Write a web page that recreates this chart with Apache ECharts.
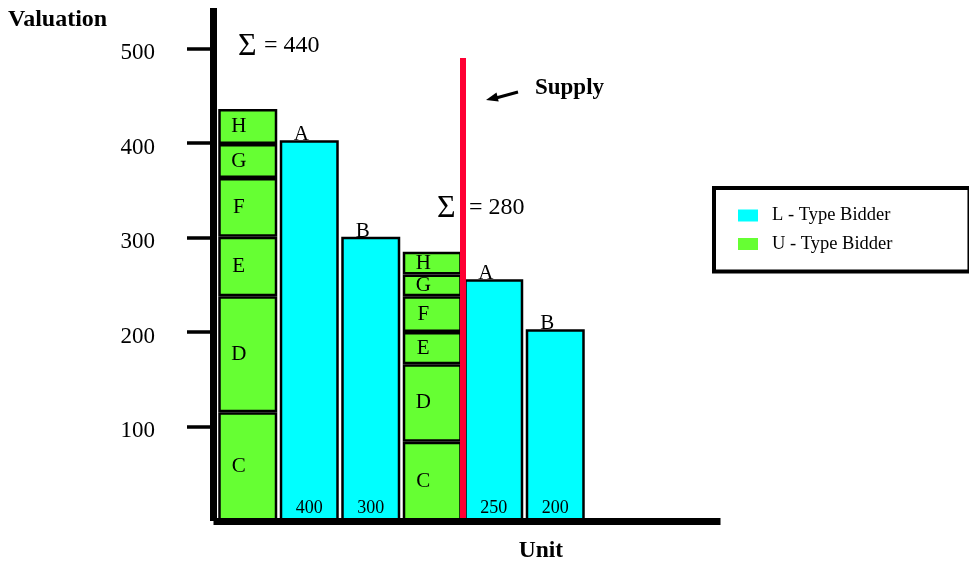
<!DOCTYPE html>
<html lang="en">
<head>
<meta charset="UTF-8">
<title>Valuation / Unit</title>
<style>
  * { margin: 0; padding: 0; }
  html, body { width: 100%; height: 100%; background: #fff; }
  #main { width: 969px; height: 565px; }
</style>
</head>
<body>
<div id="main"></div>
<script src="https://cdn.jsdelivr.net/npm/echarts@6/dist/echarts.min.js"></script>
<script>
// columns along the unit axis: U = stack of U-type bidders, L = one L-type bidder
var columns = ['U1', 'LA1', 'LB1', 'U2', 'LA2', 'LB2'];
var bottomLabels = ['', '400', '300', '', '250', '200'];
var topLabels = ['', 'A', 'B', '', 'A', 'B'];
var lValues = ['-', 403, 301, '-', 256, 203];
var uLetters = ['C', 'D', 'E', 'F', 'G', 'H'];
var uStack1 = [115, 123, 63, 62, 36, 37];   // sums to ~440
var uStack2 = [84, 82, 34, 38, 23, 24];     // sums to ~280
var yTicks = [100, 200, 300, 400, 500];
var supplyUnit = 4;      // supply cut after the 4th column
var supplyTop = 490;

var FONT = 'Liberation Serif';
var CYAN = '#00ffff', GREEN = '#66ff33', RED = '#ff0033';

var chart = echarts.init(document.getElementById('main'));

var series = [];
// U-type bidders, one stacked series per letter
uLetters.forEach(function (letter, i) {
    series.push({
        name: 'U - Type Bidder',
        type: 'bar',
        xAxisIndex: 1, yAxisIndex: 1,
        stack: 'u',
        barWidth: 59,
        barGap: '-100%',
        data: [uStack1[i], '-', '-', uStack2[i], '-', '-'],
        itemStyle: { color: GREEN, borderColor: '#000', borderWidth: 2.5 },
        label: {
            show: true, position: 'inside', formatter: letter,
            offset: [-9, 0],
            fontFamily: FONT, fontSize: 21, color: '#000'
        }
    });
});
// L-type bidders
series.push({
    name: 'L - Type Bidder',
    type: 'bar',
    xAxisIndex: 1, yAxisIndex: 1,
    barWidth: 59,
    barGap: '-100%',
    data: lValues,
    itemStyle: { color: CYAN, borderColor: '#000', borderWidth: 2.5 },
    label: {
        show: true, position: 'top', distance: 0, offset: [-8, 5],
        formatter: function (p) { return topLabels[p.dataIndex]; },
        fontFamily: FONT, fontSize: 21, color: '#000'
    }
});
// supply line
series.push({
    name: 'Supply',
    type: 'line',
    xAxisIndex: 0, yAxisIndex: 0,
    data: [[supplyUnit, 0], [supplyUnit, supplyTop]],
    symbol: 'none',
    silent: true,
    z: 5,
    lineStyle: { color: RED, width: 6, cap: 'butt' }
});

var option = {
    animation: false,
    backgroundColor: '#fff',
    grid: [
        { left: 217, right: 252, top: 8, bottom: 44, outerBoundsMode: 'none' },
        { left: 217, width: 369, top: 8, bottom: 44, outerBoundsMode: 'none' }
    ],
    xAxis: [
        {
            type: 'value', gridIndex: 0, min: 0, max: 8.13, z: 10,
            axisLine: { show: true, onZero: false, lineStyle: { color: '#000', width: 7, cap: 'square' } },
            axisTick: { show: false }, axisLabel: { show: false },
            splitLine: { show: false }
        },
        {
            type: 'category', gridIndex: 1, data: columns, z: 10,
            axisLine: { show: false }, axisTick: { show: false },
            axisLabel: {
                inside: true, margin: 4, interval: 0,
                formatter: function (v, i) { return bottomLabels[i]; },
                fontFamily: FONT, fontSize: 18, color: '#000'
            }
        }
    ],
    yAxis: [
        {
            type: 'value', gridIndex: 0, min: 0, max: 543, offset: 4,
            axisLine: { show: true, onZero: false, lineStyle: { color: '#000', width: 7, cap: 'butt' } },
            axisTick: { show: true, length: 26, customValues: yTicks,
                lineStyle: { color: '#000', width: 3.5 } },
            axisLabel: { customValues: yTicks, margin: 58,
                verticalAlign: 'top', lineHeight: 9,
                fontFamily: FONT, fontSize: 23, color: '#000' },
            splitLine: { show: false }
        },
        {
            type: 'value', gridIndex: 1, min: 0, max: 543, show: false,
            splitLine: { show: false }
        }
    ],
    legend: {
        data: ['L - Type Bidder', 'U - Type Bidder'],
        orient: 'vertical',
        left: 714, top: 188,
        padding: [18, 77, 18, 24],
        itemGap: 9.5, itemWidth: 20, itemHeight: 12,
        icon: 'rect',
        borderColor: '#000', borderWidth: 4,
        itemStyle: { borderWidth: 0 },
        textStyle: { fontFamily: FONT, fontSize: 18.5, color: '#000', padding: [0, 0, 0, 9] }
    },
    graphic: [
        { type: 'text', x: 8, y: 20, style: { text: 'Valuation', font: 'bold 24px "Liberation Serif"', fill: '#000', textVerticalAlign: 'middle' } },
        { type: 'text', x: 541, y: 551, style: { text: 'Unit', font: 'bold 23.5px "Liberation Serif"', fill: '#000', textAlign: 'center', textVerticalAlign: 'middle' } },
        { type: 'text', x: 238, y: 47, style: { text: 'Σ', font: '32px "Liberation Serif"', fill: '#000', textVerticalAlign: 'middle' } },
        { type: 'text', x: 264, y: 46, style: { text: '= 440', font: '24px "Liberation Serif"', fill: '#000', textVerticalAlign: 'middle' } },
        { type: 'text', x: 437, y: 209, style: { text: 'Σ', font: '32px "Liberation Serif"', fill: '#000', textVerticalAlign: 'middle' } },
        { type: 'text', x: 469, y: 208, style: { text: '= 280', font: '24px "Liberation Serif"', fill: '#000', textVerticalAlign: 'middle' } },
        { type: 'text', x: 535, y: 88, style: { text: 'Supply', font: 'bold 23px "Liberation Serif"', fill: '#000', textVerticalAlign: 'middle' } },
        { type: 'line', shape: { x1: 518, y1: 92, x2: 496, y2: 98 }, style: { stroke: '#000', lineWidth: 3 } },
        { type: 'polygon', shape: { points: [[486, 100], [496.5, 92.6], [498.7, 101.4]] }, style: { fill: '#000' } }
    ],
    series: series
};

chart.setOption(option);
</script>
</body>
</html>
